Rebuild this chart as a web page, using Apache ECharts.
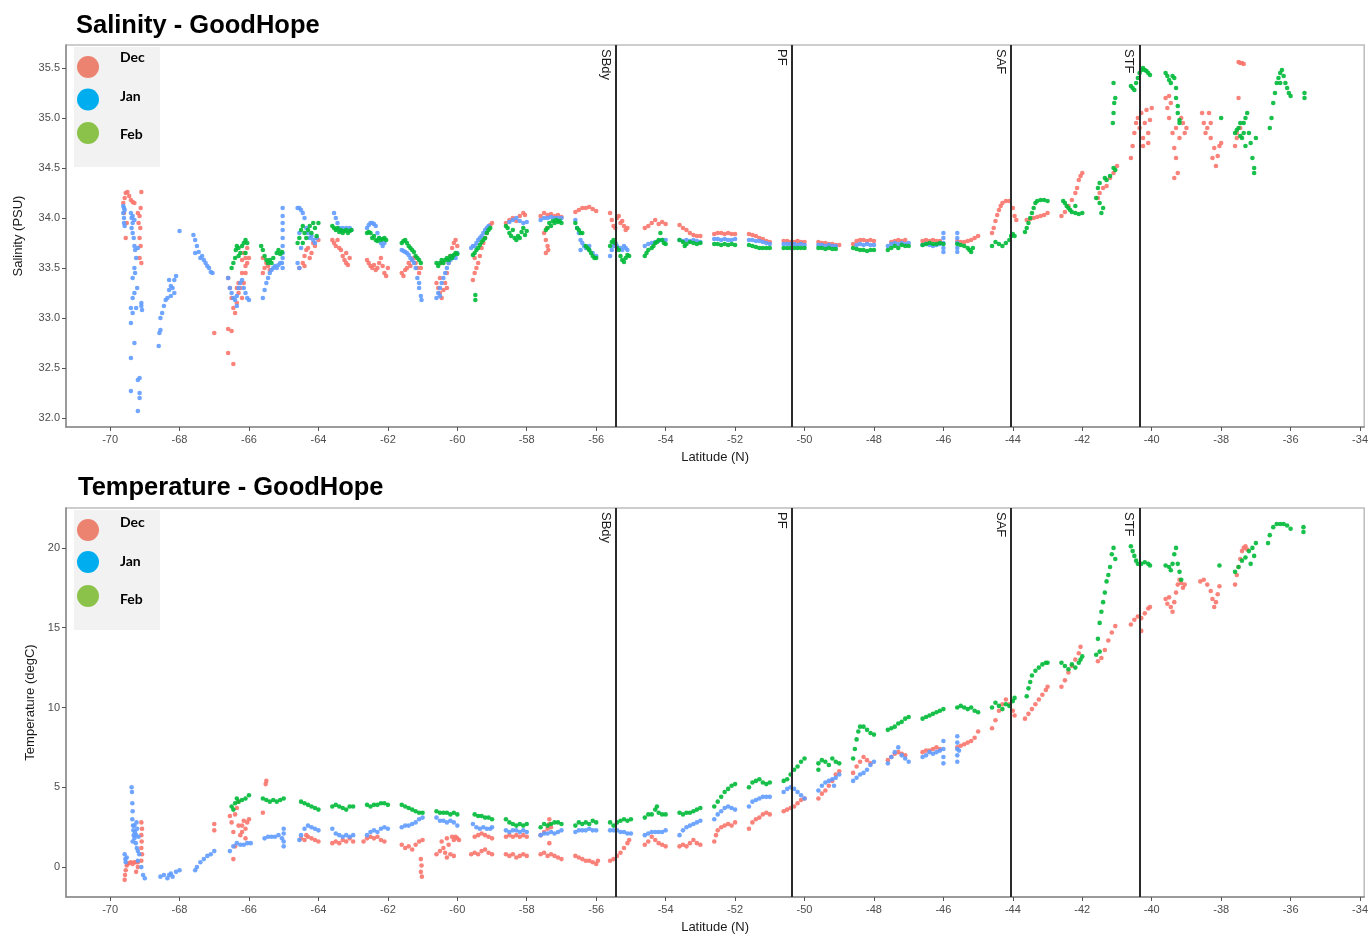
<!DOCTYPE html>
<html>
<head>
<meta charset="utf-8">
<script src="https://cdn.jsdelivr.net/npm/echarts@6/dist/echarts.min.js"></script>
<style>
html,body{margin:0;padding:0;background:#ffffff;}
#chart{width:1371px;height:935px;}
</style>
</head>
<body>
<div id="chart"></div>
<script>
// Underway surface salinity and temperature along the GoodHope line, by month.
const months = ['Dec', 'Jan', 'Feb'];
const pointColors = ['#F8766D', '#619CFF', '#00BA38'];
const keyColors = ['#EC8371', '#00AEEF', '#8BC34A'];

// Oceanic fronts (latitude, deg N)
const frontNames = ['SBdy', 'PF', 'SAF', 'STF'];
const frontLat = [-55.43, -50.36, -44.06, -40.35];

// Tick values
const latTicks = [-70, -68, -66, -64, -62, -60, -58, -56, -54, -52, -50, -48, -46, -44, -42, -40, -38, -36, -34];
const salTicks = [32.0, 32.5, 33.0, 33.5, 34.0, 34.5, 35.0, 35.5];
const tempTicks = [0, 5, 10, 15, 20];

// Salinity (PSU): flat lists of latitude, value
const salDec = [
-69.62,34.15, -69.58,34.20, -69.55,34.25, -69.50,34.26, -69.45,34.22, -69.40,34.18, -69.35,34.16, -69.30,34.15, -69.60,34.05, -69.55,33.80, -69.52,33.95,
-69.10,34.26, -69.12,34.10, -69.15,34.02, -69.18,33.95, -69.13,33.90, -69.15,33.80, -69.12,33.72, -69.15,33.60, -69.10,33.55, -69.20,34.05,
-67.00,32.85,
-66.60,32.89, -66.50,32.87, -66.60,32.65, -66.45,32.54,
-66.60,33.40, -66.55,33.30, -66.50,33.20, -66.45,33.10, -66.40,33.05, -66.35,33.15, -66.30,33.25, -66.25,33.30, -66.20,33.20, -66.15,33.35, -66.10,33.45, -66.05,33.55, -66.10,33.60, -66.15,33.65, -66.05,33.70, -66.00,33.60, -66.20,33.45, -66.35,33.30, -66.30,33.35, -66.20,33.58, -66.10,33.52,
-65.60,33.60, -65.55,33.50, -65.50,33.55, -65.45,33.52, -65.60,33.45, -65.40,33.48,
-64.55,33.50, -64.45,33.55, -64.40,33.62, -64.35,33.68, -64.30,33.70, -64.25,33.60, -64.20,33.65, -64.15,33.75, -64.10,33.72, -64.05,33.80, -64.00,33.78, -64.40,33.52,
-63.60,33.78, -63.55,33.75, -63.50,33.72, -63.45,33.78, -63.40,33.70, -63.35,33.68, -63.30,33.62, -63.25,33.58, -63.20,33.55, -63.15,33.53, -63.10,33.60, -63.20,33.65,
-62.60,33.58, -62.55,33.55, -62.50,33.52, -62.45,33.50, -62.40,33.53, -62.35,33.48, -62.30,33.50, -62.25,33.55, -62.20,33.60, -62.15,33.52, -62.10,33.45, -62.05,33.42, -62.00,33.50,
-61.60,33.45, -61.55,33.42, -61.50,33.48, -61.45,33.50, -61.40,33.55, -61.35,33.52, -61.30,33.58, -61.25,33.60, -61.20,33.55, -61.15,33.50, -61.10,33.45, -61.05,33.50,
-60.60,33.35, -60.55,33.30, -60.50,33.25, -60.45,33.20, -60.40,33.28, -60.35,33.35, -60.30,33.45, -60.25,33.55, -60.20,33.62, -60.15,33.70, -60.10,33.75, -60.05,33.78, -60.00,33.72, -60.50,33.40, -60.30,33.30, -60.45,33.55,
-59.55,33.38, -59.50,33.45, -59.45,33.50, -59.40,33.55, -59.35,33.62, -59.30,33.70, -59.25,33.75, -59.20,33.80, -59.15,33.85, -59.10,33.90, -59.05,33.93, -59.00,33.95, -59.50,33.60,
-58.60,33.95, -58.50,33.98, -58.40,34.00, -58.30,33.97, -58.20,34.02, -58.10,34.05, -58.05,34.03,
-57.60,34.02, -57.50,34.05, -57.40,34.03, -57.30,34.04, -57.20,34.02, -57.10,34.03, -57.00,34.01, -57.50,33.85, -57.45,33.78, -57.40,33.72, -57.38,33.68, -57.42,33.90, -57.45,33.65,
-56.60,34.06, -56.50,34.08, -56.40,34.10, -56.30,34.10, -56.20,34.11, -56.10,34.09, -56.00,34.07,
-55.60,34.05, -55.55,33.98, -55.50,33.92, -55.45,33.90, -55.40,34.00, -55.35,34.02, -55.30,33.95, -55.25,33.97, -55.20,33.92, -55.15,33.88, -55.10,33.90,
-54.60,33.90, -54.50,33.92, -54.40,33.95, -54.30,33.98, -54.20,33.94, -54.10,33.96, -54.00,33.94,
-53.60,33.93, -53.50,33.90, -53.40,33.88, -53.30,33.85, -53.20,33.83, -53.10,33.82, -53.00,33.82,
-52.60,33.84, -52.50,33.85, -52.40,33.85, -52.30,33.84, -52.20,33.85, -52.10,33.84, -52.00,33.84,
-51.60,33.84, -51.50,33.83, -51.40,33.82, -51.30,33.80, -51.20,33.79, -51.10,33.77, -51.00,33.76,
-50.60,33.77, -50.50,33.77, -50.40,33.76, -50.30,33.76, -50.20,33.77, -50.10,33.76, -50.00,33.76,
-49.60,33.76, -49.50,33.75, -49.40,33.75, -49.30,33.74, -49.20,33.74, -49.10,33.73, -49.00,33.73,
-48.60,33.74, -48.50,33.77, -48.40,33.78, -48.30,33.78, -48.20,33.77, -48.10,33.78, -48.00,33.77,
-47.50,33.76, -47.40,33.77, -47.30,33.78, -47.20,33.77, -47.10,33.78,
-46.60,33.77, -46.50,33.78, -46.40,33.77, -46.30,33.78, -46.20,33.77, -46.10,33.77,
-45.60,33.77, -45.50,33.76, -45.40,33.76, -45.30,33.77, -45.20,33.78, -45.10,33.80, -45.00,33.82,
-44.60,33.85, -44.55,33.90, -44.50,33.97, -44.45,34.03, -44.40,34.08, -44.35,34.12, -44.30,34.15, -44.20,34.17, -44.10,34.17, -44.00,34.10, -43.95,34.02, -43.90,33.98,
-43.60,33.98, -43.50,33.99, -43.40,34.00, -43.30,34.01, -43.20,34.02, -43.10,34.03, -43.00,34.05,
-42.60,34.02, -42.50,34.06, -42.40,34.12, -42.30,34.18, -42.20,34.25, -42.15,34.30, -42.10,34.38, -42.05,34.42, -42.00,34.45,
-41.55,34.20, -41.50,34.25, -41.40,34.30, -41.30,34.32, -41.20,34.40, -41.10,34.45, -41.00,34.52,
-40.60,34.60, -40.55,34.72, -40.50,34.85, -40.45,34.95, -40.40,35.00, -40.35,34.90, -40.30,35.05, -40.25,34.80, -40.20,34.95, -40.15,35.08, -40.10,34.85, -40.05,34.98, -40.00,35.10, -40.25,34.72, -40.10,34.75,
-39.60,35.20, -39.55,35.10, -39.50,35.00, -39.45,35.15, -39.40,34.85, -39.35,34.70, -39.30,34.60, -39.25,34.45, -39.30,34.90, -39.20,34.80, -39.15,35.00, -39.10,34.95, -39.05,34.85, -39.00,34.90, -39.35,34.40, -39.50,35.22,
-38.55,35.05, -38.50,34.95, -38.45,34.85, -38.40,34.90, -38.35,35.05, -38.30,34.80, -38.25,34.60, -38.20,34.70, -38.15,34.52, -38.10,34.62, -38.05,34.72, -38.00,34.75, -38.30,34.95,
-37.50,35.56, -37.45,35.55, -37.40,35.55, -37.35,35.54, -37.50,35.20, -37.55,34.85, -37.60,34.72, -37.55,34.80, -37.45,34.90
];

const salJan = [
-69.62,34.12, -69.62,34.05, -69.60,34.00, -69.60,33.95, -69.58,33.92, -69.60,34.10, -69.58,34.08,
-69.40,34.05, -69.38,34.00, -69.35,33.95, -69.38,33.90, -69.35,33.85, -69.32,33.80, -69.30,33.72, -69.28,33.68, -69.25,33.60, -69.30,33.50, -69.35,33.40, -69.30,33.25, -69.35,33.20, -69.40,33.10, -69.35,33.05, -69.40,32.95, -69.30,32.75, -69.40,32.60, -69.40,32.27, -69.20,32.07, -69.15,32.40, -69.20,32.38, -69.15,32.20, -69.15,32.25, -69.25,33.10, -69.10,33.15, -69.08,33.08, -69.10,33.12, -69.20,33.70, -69.28,33.45, -69.22,33.30, -69.35,34.02, -69.30,33.98,
-68.60,32.72, -68.58,32.85, -68.55,32.88, -68.55,33.00, -68.50,33.05, -68.45,33.12, -68.40,33.18, -68.35,33.20, -68.30,33.28, -68.25,33.32, -68.20,33.30, -68.15,33.38, -68.10,33.42, -68.30,33.38, -68.25,33.22, -68.15,33.25, -68.00,33.87,
-67.60,33.83, -67.55,33.78, -67.50,33.72, -67.55,33.65, -67.45,33.66, -67.40,33.60, -67.35,33.62, -67.30,33.58, -67.25,33.55, -67.20,33.52, -67.15,33.50, -67.10,33.46, -67.05,33.45,
-66.60,33.40, -66.55,33.30, -66.50,33.25, -66.45,33.20, -66.40,33.18, -66.35,33.22, -66.30,33.30, -66.25,33.35, -66.20,33.38, -66.15,33.30, -66.10,33.25, -66.05,33.20, -66.00,33.18, -66.35,33.12,
-65.60,33.20, -65.55,33.28, -65.50,33.35, -65.45,33.40, -65.40,33.45, -65.35,33.48, -65.30,33.50, -65.25,33.52, -65.20,33.50, -65.15,33.53, -65.10,33.55, -65.05,33.55, -65.03,33.60, -65.03,33.65, -65.03,33.72, -65.03,33.80, -65.03,33.88, -65.03,33.95, -65.03,34.02, -65.03,34.10, -65.03,33.50,
-64.60,34.10, -64.55,34.10, -64.50,34.08, -64.45,34.05, -64.40,34.00, -64.35,33.90, -64.30,33.85, -64.25,33.80, -64.20,33.82, -64.15,33.78, -64.10,33.75, -64.05,33.80, -64.60,33.55, -64.55,33.85, -64.50,33.70, -64.55,33.50,
-63.55,34.05, -63.50,34.00, -63.45,33.95, -63.40,33.90, -63.35,33.88, -63.30,33.90, -63.20,33.90, -63.10,33.90, -63.05,33.88,
-62.60,33.90, -62.55,33.93, -62.50,33.95, -62.45,33.95, -62.40,33.94, -62.35,33.92, -62.30,33.85, -62.25,33.80, -62.20,33.75, -62.15,33.72, -62.10,33.75,
-61.60,33.68, -61.55,33.67, -61.50,33.66, -61.45,33.65, -61.40,33.63, -61.35,33.60, -61.30,33.58, -61.25,33.55, -61.20,33.50, -61.15,33.40, -61.10,33.30, -61.05,33.22, -61.03,33.18, -61.10,33.35,
-60.60,33.20, -60.55,33.25, -60.50,33.30, -60.45,33.35, -60.40,33.40, -60.35,33.45, -60.30,33.50, -60.25,33.55, -60.20,33.58, -60.15,33.60, -60.10,33.62, -60.05,33.60, -60.00,33.65, -60.50,33.22,
-59.60,33.70, -59.55,33.72, -59.50,33.72, -59.45,33.75, -59.40,33.78, -59.35,33.80, -59.30,33.82, -59.25,33.85, -59.20,33.88, -59.15,33.90, -59.10,33.92,
-58.50,33.96, -58.40,33.98, -58.30,34.00, -58.20,33.97, -58.10,33.95, -58.00,33.96,
-57.60,33.98, -57.50,34.00, -57.40,34.00, -57.30,34.01, -57.20,34.00, -57.10,34.00, -57.00,34.00,
-56.60,33.98, -56.55,33.90, -56.50,33.85, -56.45,33.78, -56.40,33.75, -56.35,33.72, -56.30,33.70, -56.20,33.68, -56.10,33.65, -56.00,33.62, -56.45,33.68, -56.20,33.72,
-55.60,33.62, -55.55,33.68, -55.50,33.72, -55.45,33.75, -55.40,33.72, -55.30,33.70, -55.25,33.68, -55.20,33.72, -55.15,33.70, -55.10,33.68,
-54.60,33.72, -54.50,33.74, -54.40,33.75, -54.30,33.76, -54.20,33.77, -54.10,33.78, -54.00,33.78,
-53.60,33.78, -53.50,33.77, -53.40,33.78, -53.30,33.77, -53.20,33.78, -53.10,33.77, -53.00,33.76,
-52.60,33.79, -52.50,33.79, -52.40,33.78, -52.30,33.79, -52.20,33.78, -52.10,33.78, -52.00,33.79,
-51.60,33.78, -51.50,33.78, -51.40,33.77, -51.30,33.77, -51.20,33.76, -51.10,33.75, -51.00,33.74,
-50.60,33.74, -50.50,33.74, -50.40,33.74, -50.30,33.74, -50.20,33.73, -50.10,33.74, -50.00,33.73,
-49.60,33.73, -49.50,33.73, -49.40,33.72, -49.30,33.73, -49.20,33.72, -49.10,33.72,
-48.50,33.73, -48.40,33.74, -48.30,33.73, -48.20,33.74, -48.10,33.73, -48.00,33.73,
-47.60,33.72, -47.50,33.74, -47.40,33.75, -47.30,33.74, -47.20,33.75, -47.10,33.74, -47.00,33.75,
-46.60,33.73, -46.50,33.74, -46.40,33.73, -46.30,33.72, -46.20,33.73, -46.10,33.74, -46.00,33.85, -46.00,33.80, -46.00,33.75, -46.00,33.70, -46.00,33.66,
-45.60,33.85, -45.60,33.80, -45.60,33.75, -45.60,33.70, -45.60,33.66
];

const salFeb = [
-66.50,33.50, -66.45,33.55, -66.40,33.60, -66.38,33.68, -66.35,33.72, -66.30,33.70, -66.25,33.65, -66.20,33.72, -66.15,33.75, -66.10,33.78, -66.05,33.75, -66.30,33.62, -66.10,33.65,
-65.65,33.72, -65.60,33.68, -65.55,33.62, -65.50,33.58, -65.45,33.55, -65.40,33.58, -65.35,33.55, -65.30,33.60, -65.20,33.65, -65.15,33.68, -65.10,33.64, -65.05,33.66,
-64.60,33.75, -64.55,33.80, -64.50,33.88, -64.45,33.92, -64.40,33.85, -64.35,33.80, -64.30,33.88, -64.25,33.92, -64.20,33.85, -64.15,33.95, -64.10,33.90, -64.05,33.82, -64.00,33.95, -64.45,33.75,
-63.60,33.92, -63.55,33.90, -63.50,33.88, -63.45,33.90, -63.40,33.86, -63.35,33.88, -63.30,33.85, -63.25,33.87, -63.20,33.88, -63.15,33.85, -63.10,33.87, -63.05,33.88,
-62.60,33.85, -62.55,33.86, -62.50,33.85, -62.45,33.80, -62.40,33.82, -62.35,33.78, -62.30,33.77, -62.25,33.80, -62.20,33.78, -62.15,33.79, -62.10,33.80, -62.05,33.78,
-61.60,33.75, -61.55,33.77, -61.50,33.78, -61.45,33.75, -61.40,33.72, -61.35,33.70, -61.30,33.68, -61.25,33.66, -61.20,33.62, -61.15,33.60, -61.10,33.58, -61.05,33.55,
-60.60,33.55, -60.55,33.52, -60.50,33.55, -60.45,33.58, -60.40,33.55, -60.35,33.58, -60.30,33.60, -60.25,33.58, -60.20,33.62, -60.15,33.60, -60.10,33.63, -60.05,33.65, -60.00,33.64,
-59.55,33.63, -59.50,33.65, -59.45,33.68, -59.40,33.70, -59.35,33.73, -59.30,33.76, -59.25,33.78, -59.20,33.80, -59.15,33.85, -59.10,33.88, -59.05,33.90, -59.48,33.23, -59.48,33.18,
-58.60,33.92, -58.55,33.90, -58.50,33.85, -58.45,33.82, -58.40,33.88, -58.35,33.80, -58.30,33.78, -58.25,33.82, -58.20,33.80, -58.15,33.86, -58.10,33.90, -58.05,33.83, -58.00,33.87,
-57.45,33.88, -57.40,33.90, -57.35,33.95, -57.30,33.92, -57.25,33.97, -57.20,33.95, -57.15,33.98, -57.10,33.96, -57.05,33.97, -57.00,33.95,
-56.60,33.95, -56.55,33.90, -56.50,33.88, -56.45,33.85, -56.40,33.85, -56.30,33.72, -56.25,33.70, -56.20,33.68, -56.15,33.65, -56.10,33.62, -56.05,33.60, -56.00,33.60,
-55.60,33.72, -55.55,33.76, -55.50,33.78, -55.45,33.75, -55.40,33.70, -55.35,33.68, -55.30,33.62, -55.25,33.58, -55.20,33.56, -55.15,33.60, -55.10,33.63, -55.05,33.62,
-54.60,33.62, -54.55,33.65, -54.50,33.68, -54.40,33.70, -54.35,33.72, -54.30,33.75, -54.25,33.76, -54.20,33.78, -54.15,33.85, -54.10,33.78, -54.05,33.75, -54.00,33.74,
-53.60,33.78, -53.50,33.76, -53.45,33.72, -53.40,33.74, -53.30,33.76, -53.20,33.75, -53.10,33.74, -53.00,33.75,
-52.60,33.74, -52.50,33.74, -52.40,33.73, -52.30,33.74, -52.20,33.73, -52.10,33.74, -52.00,33.73,
-51.60,33.73, -51.50,33.72, -51.40,33.71, -51.30,33.70, -51.20,33.70, -51.10,33.70, -51.00,33.70,
-50.60,33.70, -50.50,33.70, -50.40,33.70, -50.30,33.70, -50.20,33.70, -50.10,33.70, -50.00,33.70,
-49.60,33.70, -49.50,33.70, -49.40,33.69, -49.30,33.70, -49.20,33.69, -49.10,33.69,
-48.60,33.70, -48.50,33.69, -48.40,33.68, -48.30,33.68, -48.20,33.67, -48.10,33.68, -48.00,33.68,
-47.60,33.68, -47.50,33.70, -47.40,33.72, -47.30,33.70, -47.20,33.73, -47.10,33.72, -47.00,33.72,
-46.60,33.73, -46.50,33.74, -46.40,33.75, -46.30,33.74, -46.20,33.74, -46.10,33.75, -46.00,33.74,
-45.60,33.74, -45.50,33.73, -45.40,33.72, -45.30,33.70, -45.25,33.68, -45.20,33.66, -45.15,33.70,
-44.60,33.72, -44.50,33.76, -44.40,33.74, -44.30,33.72, -44.20,33.75, -44.10,33.78, -44.05,33.82, -44.00,33.84, -43.95,33.82,
-43.65,33.86, -43.60,33.90, -43.55,33.95, -43.50,34.00, -43.45,34.05, -43.40,34.10, -43.35,34.15, -43.30,34.17, -43.20,34.18, -43.10,34.18, -43.00,34.17,
-42.55,34.17, -42.50,34.15, -42.45,34.12, -42.40,34.10, -42.35,34.08, -42.30,34.06, -42.20,34.05, -42.10,34.04, -42.00,34.05, -42.20,34.12,
-41.60,34.20, -41.55,34.30, -41.50,34.35, -41.45,34.05, -41.40,34.10, -41.35,34.40, -41.30,34.38, -41.20,34.42, -41.10,34.50, -41.05,34.48, -41.50,34.15,
-41.10,35.35, -41.05,35.20, -41.08,35.15, -41.10,35.05, -41.12,34.95,
-40.60,35.32, -40.55,35.30, -40.50,35.28, -40.45,35.35, -40.40,35.40, -40.35,35.45, -40.30,35.48, -40.25,35.50, -40.20,35.48, -40.15,35.47, -40.10,35.45, -40.05,35.43,
-39.60,35.45, -39.55,35.42, -39.50,35.38, -39.45,35.35, -39.40,35.42, -39.35,35.40, -39.30,35.30, -39.30,35.20, -39.25,35.05, -39.20,34.98, -39.25,35.12, -39.20,34.95,
-38.00,35.00,
-37.60,34.85, -37.55,34.88, -37.50,34.90, -37.45,34.82, -37.40,34.80, -37.35,34.95, -37.30,35.00, -37.25,35.05, -37.20,34.85, -37.15,34.75, -37.10,34.60, -37.05,34.50, -37.05,34.45, -37.00,34.80, -37.30,34.72, -37.45,34.95, -37.35,34.85,
-36.60,34.90, -36.55,35.00, -36.50,35.15, -36.45,35.25, -36.40,35.35, -36.35,35.40, -36.30,35.45, -36.25,35.48, -36.20,35.42, -36.15,35.35, -36.10,35.30, -36.05,35.25, -36.00,35.22, -36.30,35.35,
-35.60,35.25, -35.60,35.20
];

// Temperature (degC): flat lists of latitude, value
const tempDec = [
-69.58,-0.80, -69.57,-0.50, -69.55,-0.20, -69.52,0.10, -69.50,0.20, -69.45,0.25, -69.40,0.30, -69.35,0.20, -69.30,0.30, -69.25,0.30, -69.20,0.30,
-69.10,2.80, -69.08,2.40, -69.10,2.00, -69.09,1.60, -69.10,1.20, -69.08,0.80, -69.10,0.40, -69.20,0.00, -69.25,-0.30,
-67.00,2.70, -67.00,2.30,
-66.55,3.20, -66.50,2.80, -66.45,2.20, -66.40,3.30, -66.35,3.70, -66.30,4.10, -66.30,2.60, -66.25,2.00, -66.20,2.60, -66.15,2.90, -66.10,2.40, -66.05,2.80, -66.00,3.00, -66.45,0.50, -66.40,1.30, -66.20,2.20, -66.10,1.80,
-65.50,5.40, -65.52,5.20, -65.60,3.40,
-64.50,1.80, -64.40,1.70, -64.30,1.90, -64.20,1.80, -64.10,1.70, -64.00,1.60, -64.35,2.00,
-63.60,1.50, -63.50,1.60, -63.40,1.50, -63.30,1.70, -63.20,1.60, -63.10,1.80, -63.00,1.60,
-62.70,1.60, -62.60,1.80, -62.50,1.90, -62.40,1.80, -62.30,1.90, -62.20,1.70, -62.10,1.60,
-61.60,1.40, -61.50,1.20, -61.40,1.30, -61.30,1.10, -61.20,1.40, -61.10,1.60, -61.00,1.70, -61.05,0.50, -61.03,0.10, -61.05,-0.30, -61.02,-0.60,
-60.60,0.80, -60.50,1.00, -60.45,1.60, -60.40,1.20, -60.35,0.90, -60.30,1.80, -60.25,1.40, -60.20,0.80, -60.15,1.90, -60.10,1.70, -60.05,1.90, -60.00,1.80, -59.95,1.70, -60.30,0.60, -60.10,0.70,
-59.50,1.90, -59.40,2.00, -59.30,2.10, -59.20,2.00, -59.10,1.90, -59.00,1.80,
-59.60,0.80, -59.50,0.90, -59.40,0.80, -59.30,1.00, -59.20,1.10, -59.10,0.90, -59.00,0.80,
-58.60,1.90, -58.50,2.00, -58.40,1.90, -58.30,2.00, -58.20,1.90, -58.10,2.00, -58.00,1.90,
-58.60,0.80, -58.50,0.70, -58.40,0.80, -58.30,0.60, -58.20,0.70, -58.10,0.80, -58.00,0.70,
-57.60,2.00, -57.50,2.20, -57.40,2.40, -57.35,3.00, -57.35,2.70, -57.35,1.50, -57.30,2.50,
-57.60,0.80, -57.50,0.90, -57.40,0.70, -57.30,0.80, -57.20,0.70, -57.10,0.60, -57.00,0.50,
-56.60,0.70, -56.50,0.60, -56.40,0.50, -56.30,0.40, -56.20,0.40, -56.10,0.30, -56.00,0.20, -55.95,0.40,
-55.60,0.40, -55.50,0.50, -55.40,0.70, -55.30,0.90, -55.20,1.20, -55.10,1.50, -55.05,1.70,
-54.60,1.40, -54.50,1.60, -54.40,1.90, -54.30,1.70, -54.20,1.50, -54.10,1.40, -54.00,1.30,
-53.60,1.30, -53.50,1.40, -53.40,1.30, -53.30,1.50, -53.20,1.70, -53.10,1.50, -53.00,1.40,
-52.60,1.60, -52.55,2.00, -52.50,2.30, -52.40,2.50, -52.30,2.60, -52.20,2.70, -52.10,2.60, -52.00,2.80,
-51.60,2.40, -51.50,2.80, -51.40,3.00, -51.30,3.10, -51.20,3.30, -51.10,3.40, -51.00,3.30,
-50.60,3.50, -50.50,3.60, -50.40,3.70, -50.30,3.80, -50.20,4.00, -50.10,4.20, -50.00,4.30,
-49.60,4.30, -49.50,4.60, -49.40,4.80, -49.30,5.10, -49.20,5.40, -49.10,5.80, -49.00,6.00,
-48.60,5.90, -48.50,6.30, -48.40,6.60, -48.30,6.90, -48.20,6.70, -48.10,6.50,
-47.60,6.70, -47.50,6.90, -47.40,7.10, -47.30,7.20, -47.20,7.10, -47.10,7.00,
-46.60,7.20, -46.50,7.30, -46.40,7.30, -46.30,7.40, -46.20,7.50, -46.10,7.40,
-45.60,7.50, -45.50,7.60, -45.40,7.70, -45.30,7.80, -45.20,7.90, -45.10,8.10, -45.00,8.50,
-44.60,8.70, -44.50,9.20, -44.40,9.80, -44.30,10.20, -44.20,10.50, -44.10,10.20, -44.00,9.80, -43.95,9.50,
-43.65,9.30, -43.55,9.60, -43.45,9.90, -43.35,10.20, -43.25,10.50, -43.15,10.80, -43.05,11.10, -43.00,11.30,
-42.60,11.30, -42.50,11.70, -42.40,12.20, -42.30,12.60, -42.20,13.00, -42.10,13.40, -42.05,13.80,
-41.55,12.90, -41.45,13.10, -41.35,13.60, -41.25,14.20, -41.15,14.70, -41.05,15.10,
-40.60,15.20, -40.50,15.50, -40.40,15.70, -40.30,15.60, -40.20,15.90, -40.10,16.20, -40.05,16.30, -40.30,14.80,
-39.60,16.80, -39.55,16.50, -39.50,16.90, -39.45,16.30, -39.40,16.00, -39.35,16.60, -39.30,17.20, -39.25,17.70, -39.20,18.00, -39.15,17.80, -39.10,17.50, -39.05,17.70,
-38.60,17.90, -38.50,18.00, -38.40,17.70, -38.30,17.30, -38.25,16.80, -38.20,16.30, -38.15,16.60, -38.10,17.10, -38.05,17.60,
-37.60,17.70, -37.55,18.30, -37.50,18.80, -37.45,19.30, -37.40,19.80, -37.35,20.00, -37.30,20.10, -37.25,19.90
];

const tempJan = [
-69.58,0.80, -69.56,0.50, -69.55,0.30, -69.52,0.60,
-69.38,5.00, -69.37,4.70, -69.36,4.00, -69.35,3.50, -69.36,3.00, -69.34,2.60, -69.33,2.30, -69.32,2.00, -69.30,1.80, -69.28,2.20, -69.26,1.50, -69.25,2.00, -69.23,1.20, -69.22,2.40, -69.20,1.00, -69.18,1.90, -69.16,0.80, -69.20,0.40, -69.10,0.00, -69.05,-0.50, -69.00,-0.70, -69.35,1.60, -69.30,2.60, -69.24,2.80,
-68.55,-0.60, -68.45,-0.50, -68.35,-0.70, -68.25,-0.40, -68.20,-0.60, -68.10,-0.30, -68.00,-0.20, -68.30,-0.50,
-67.55,-0.20, -67.50,0.00, -67.40,0.30, -67.30,0.50, -67.20,0.70, -67.10,0.80, -67.00,1.00,
-66.55,1.00, -66.45,1.30, -66.35,1.50, -66.25,1.40, -66.15,1.40, -66.05,1.50, -65.95,1.50,
-65.55,1.80, -65.45,1.90, -65.35,1.90, -65.25,1.90, -65.15,2.00, -65.05,1.80, -65.00,2.40, -65.00,2.10, -65.00,1.60, -65.00,1.30,
-64.55,1.70, -64.50,2.00, -64.40,2.40, -64.30,2.60, -64.20,2.50, -64.10,2.40, -64.00,2.30,
-63.60,2.40, -63.50,2.10, -63.40,2.00, -63.30,1.90, -63.20,2.00, -63.10,1.90, -63.00,2.00,
-62.60,2.00, -62.50,2.20, -62.40,2.30, -62.30,2.20, -62.20,2.40, -62.10,2.50, -62.00,2.40,
-61.60,2.50, -61.50,2.60, -61.40,2.60, -61.30,2.70, -61.20,2.80, -61.10,3.00, -61.00,3.10,
-60.60,3.10, -60.50,2.90, -60.40,2.90, -60.30,2.80, -60.20,2.90, -60.10,2.80, -60.00,2.60,
-59.55,2.70, -59.45,2.50, -59.35,2.40, -59.25,2.50, -59.15,2.40, -59.05,2.40, -59.00,2.50,
-58.60,2.30, -58.50,2.20, -58.40,2.30, -58.30,2.30, -58.20,2.20, -58.10,2.30, -58.00,2.20,
-57.60,2.00, -57.50,2.10, -57.40,2.10, -57.30,2.20, -57.20,2.10, -57.10,2.20, -57.00,2.30,
-56.60,2.20, -56.50,2.30, -56.40,2.30, -56.30,2.30, -56.20,2.40, -56.10,2.30, -56.00,2.30,
-55.60,2.30, -55.50,2.30, -55.40,2.30, -55.30,2.20, -55.20,2.20, -55.10,2.10, -55.00,2.10,
-54.60,2.00, -54.50,2.10, -54.40,2.20, -54.30,2.20, -54.20,2.20, -54.10,2.20, -54.00,2.30,
-53.60,2.00, -53.50,2.30, -53.40,2.50, -53.30,2.60, -53.20,2.70, -53.10,2.80, -53.00,2.90,
-52.60,3.00, -52.50,3.30, -52.40,3.50, -52.30,3.70, -52.20,3.80, -52.10,3.70, -52.00,3.60,
-51.60,3.80, -51.50,4.10, -51.40,4.20, -51.30,4.30, -51.20,4.40, -51.10,4.40, -51.00,4.40,
-50.60,4.70, -50.50,4.90, -50.40,5.00, -50.30,4.90, -50.20,4.70, -50.10,4.50, -50.00,4.30,
-49.60,4.80, -49.50,5.10, -49.40,5.30, -49.30,5.40, -49.20,5.50, -49.10,5.60, -49.00,5.80, -49.15,5.10,
-48.60,5.40, -48.50,5.60, -48.40,5.80, -48.30,5.90, -48.20,6.10, -48.10,6.40, -48.00,6.60,
-47.60,6.50, -47.50,6.90, -47.40,7.20, -47.30,7.50, -47.20,7.00, -47.10,6.80, -47.00,6.60,
-46.60,6.90, -46.50,7.00, -46.40,7.20, -46.30,7.10, -46.20,7.20, -46.10,7.30, -46.00,7.90, -46.00,7.40, -46.00,6.90, -46.00,6.50,
-45.60,8.20, -45.60,7.80, -45.60,7.40, -45.60,7.00, -45.60,6.60, -45.55,7.30
];

const tempFeb = [
-66.50,3.80, -66.40,4.00, -66.35,4.30, -66.30,4.10, -66.20,4.20, -66.10,4.30, -66.00,4.50, -66.45,3.60,
-65.60,4.30, -65.50,4.20, -65.40,4.10, -65.30,4.20, -65.20,4.10, -65.10,4.20, -65.00,4.30,
-64.50,4.10, -64.40,4.00, -64.30,3.90, -64.20,3.80, -64.10,3.70, -64.00,3.60,
-63.60,3.80, -63.50,3.90, -63.40,3.80, -63.30,3.70, -63.20,3.60, -63.10,3.80, -63.00,3.80,
-62.60,3.90, -62.50,3.80, -62.40,3.90, -62.30,3.90, -62.20,4.00, -62.10,4.00, -62.00,3.90,
-61.60,3.90, -61.50,3.80, -61.40,3.70, -61.30,3.60, -61.20,3.50, -61.10,3.40, -61.00,3.40,
-60.60,3.50, -60.50,3.40, -60.40,3.40, -60.30,3.40, -60.20,3.30, -60.10,3.40, -60.00,3.30,
-59.50,3.30, -59.40,3.20, -59.30,3.20, -59.20,3.10, -59.10,3.10, -59.00,3.00,
-58.60,3.00, -58.50,2.80, -58.40,2.70, -58.30,2.60, -58.20,2.70, -58.10,2.60, -58.00,2.70,
-57.60,2.50, -57.50,2.70, -57.40,2.60, -57.30,2.70, -57.20,2.80, -57.10,2.80, -57.00,2.70,
-56.60,2.60, -56.50,2.80, -56.40,2.70, -56.30,2.80, -56.20,2.70, -56.10,2.90, -56.00,2.80,
-55.60,2.80, -55.50,2.60, -55.40,2.80, -55.30,2.90, -55.20,3.00, -55.10,2.90, -55.00,3.00,
-54.60,3.10, -54.50,3.30, -54.40,3.30, -54.30,3.60, -54.25,3.80, -54.20,3.40, -54.10,3.30, -54.00,3.30,
-53.60,3.40, -53.50,3.30, -53.40,3.40, -53.30,3.40, -53.20,3.50, -53.10,3.60, -53.00,3.70,
-52.60,3.80, -52.50,4.10, -52.40,4.40, -52.30,4.70, -52.20,4.90, -52.10,5.10, -52.00,5.20,
-51.60,5.00, -51.50,5.30, -51.40,5.40, -51.30,5.50, -51.20,5.30, -51.10,5.20, -51.00,5.30,
-50.60,5.40, -50.50,5.50, -50.40,5.80, -50.30,6.10, -50.20,6.30, -50.10,6.60, -50.00,6.80,
-49.60,6.50, -49.50,6.70, -49.40,6.60, -49.30,6.40, -49.20,6.80, -49.10,6.60, -49.00,6.50, -49.60,6.10,
-48.60,6.80, -48.55,7.40, -48.50,8.00, -48.45,8.50, -48.40,8.80, -48.30,8.80, -48.20,8.60, -48.10,8.40, -48.00,8.30,
-47.60,8.60, -47.50,8.70, -47.40,8.80, -47.30,9.00, -47.20,9.10, -47.10,9.30, -47.00,9.40,
-46.60,9.30, -46.50,9.40, -46.40,9.50, -46.30,9.60, -46.20,9.70, -46.10,9.80, -46.00,9.90,
-45.60,10.00, -45.50,10.10, -45.40,10.00, -45.30,9.90, -45.20,10.00, -45.10,9.80, -45.00,9.70,
-44.60,10.00, -44.50,10.30, -44.40,10.10, -44.30,9.90, -44.20,10.20, -44.10,10.10, -44.00,10.40, -43.95,10.60,
-43.60,10.70, -43.55,11.20, -43.50,11.60, -43.45,12.00, -43.35,12.30, -43.25,12.50, -43.15,12.70, -43.05,12.80, -43.00,12.80,
-42.60,12.80, -42.50,12.60, -42.40,12.40, -42.30,12.70, -42.20,12.50, -42.10,12.80, -42.05,13.00, -42.00,13.20,
-41.60,13.30, -41.55,14.30, -41.50,15.30, -41.45,16.00, -41.40,16.60, -41.35,17.20, -41.30,17.90, -41.25,18.30, -41.20,18.80, -41.15,19.60, -41.10,20.00, -41.05,19.30, -41.50,13.50,
-40.60,20.10, -40.55,19.80, -40.50,19.50, -40.45,19.20, -40.40,19.00, -40.30,19.00, -40.20,19.10, -40.10,19.00, -40.05,18.90,
-39.60,18.90, -39.50,18.80, -39.45,18.60, -39.40,19.00, -39.35,19.60, -39.30,20.00, -39.25,19.00, -39.20,18.50, -39.15,18.00,
-38.05,18.90,
-37.60,18.50, -37.50,18.80, -37.40,19.20, -37.30,19.40, -37.20,19.80, -37.10,20.00, -37.00,20.30, -37.05,19.50, -37.15,19.00,
-36.65,20.30, -36.60,20.80, -36.50,21.30, -36.40,21.50, -36.30,21.50, -36.20,21.50, -36.10,21.40, -36.00,21.20,
-35.63,21.30, -35.63,21.00
];

function pairs(flat) {
  const out = [];
  for (let i = 0; i < flat.length; i += 2) out.push([flat[i], flat[i + 1]]);
  return out;
}

const salSeries = [salDec, salJan, salFeb];
const tempSeries = [tempDec, tempJan, tempFeb];

const salRange = [31.91, 35.73];
const tempRange = [-1.875, 22.5];
const latRange = [-71.27, -33.88];

const FONT = 'Liberation Sans, Arial, sans-serif';

function xAxisCfg(gridIndex) {
  return {
    type: 'value', gridIndex: gridIndex, min: latRange[0], max: latRange[1],
    name: 'Latitude (N)', nameLocation: 'middle', nameGap: 24,
    nameTextStyle: { color: '#1a1a1a', fontSize: 13, fontFamily: FONT },
    axisLine: { show: true, onZero: false, lineStyle: { color: '#8a8a8a', width: 1.5 } },
    axisTick: { show: true, length: 4, customValues: latTicks, lineStyle: { color: '#555', width: 1 } },
    axisLabel: { customValues: latTicks, color: '#4d4d4d', fontSize: 11, fontFamily: FONT, margin: 7,
      formatter: v => String(Math.round(v)) },
    splitLine: { show: false }
  };
}

function yAxisCfg(gridIndex, name, range, ticks, gap, fmt) {
  return {
    type: 'value', gridIndex: gridIndex, min: range[0], max: range[1],
    name: name, nameLocation: 'middle', nameGap: gap,
    nameTextStyle: { color: '#1a1a1a', fontSize: 13, fontFamily: FONT },
    axisLine: { show: true, onZero: false, lineStyle: { color: '#8a8a8a', width: 1.5 } },
    axisTick: { show: true, length: 4, customValues: ticks, lineStyle: { color: '#555', width: 1 } },
    axisLabel: { customValues: ticks, color: '#4d4d4d', fontSize: 11, fontFamily: FONT, margin: 6, formatter: fmt },
    splitLine: { show: false }
  };
}

function frontLines(range) {
  return {
    silent: true,
    symbol: ['none', 'none'],
    animation: false,
    lineStyle: { color: '#2b2b2b', width: 2, type: 'solid' },
    label: {
      show: true, position: 'insideStartBottom', distance: 4,
      formatter: p => p.name, color: '#1a1a1a', fontSize: 13, fontFamily: FONT
    },
    emphasis: { disabled: true },
    data: frontNames.map((n, i) => [
      { name: n, coord: [frontLat[i], range[1]] },
      { coord: [frontLat[i], range[0]] }
    ])
  };
}

const series = [];
salSeries.forEach((d, i) => {
  const s = {
    name: months[i] + ' salinity', type: 'scatter', xAxisIndex: 0, yAxisIndex: 0,
    data: pairs(d), symbolSize: 4.6, itemStyle: { color: pointColors[i], opacity: 0.9 }, z: 3
  };
  if (i === 0) s.markLine = frontLines(salRange);
  series.push(s);
});
tempSeries.forEach((d, i) => {
  const s = {
    name: months[i] + ' temperature', type: 'scatter', xAxisIndex: 1, yAxisIndex: 1,
    data: pairs(d), symbolSize: 4.6, itemStyle: { color: pointColors[i], opacity: 0.9 }, z: 3
  };
  if (i === 0) s.markLine = frontLines(tempRange);
  series.push(s);
});

// Month key drawn as a shaded box with filled circles
function monthKey(top, circleY, textY) {
  const children = [{
    type: 'rect', shape: { x: 74, y: top, width: 86, height: 120 },
    style: { fill: '#f2f2f2' }
  }];
  months.forEach((m, i) => {
    children.push({ type: 'circle', shape: { cx: 88, cy: circleY[i], r: 11 }, style: { fill: keyColors[i] } });
    children.push({ type: 'text', style: { x: 120, y: textY[i], text: m, fill: '#000',
      font: 'bold 14px Lato, "Open Sans", sans-serif', verticalAlign: 'middle' } });
  });
  return { type: 'group', children: children };
}

const option = {
  animation: false,
  backgroundColor: '#ffffff',
  grid: [
    { left: 66, top: 45, width: 1300, height: 382, show: true, borderColor: '#bdbdbd', borderWidth: 1.5, backgroundColor: '#fff' },
    { left: 66, top: 508, width: 1300, height: 390, show: true, borderColor: '#bdbdbd', borderWidth: 1.5, backgroundColor: '#fff' }
  ],
  xAxis: [xAxisCfg(0), xAxisCfg(1)],
  yAxis: [
    yAxisCfg(0, 'Salinity (PSU)', salRange, salTicks, 41, v => v.toFixed(1)),
    yAxisCfg(1, 'Temperature (degC)', tempRange, tempTicks, 29, v => String(Math.round(v)))
  ],
  graphic: [
    { type: 'text', left: 76, top: 13, style: { text: 'Salinity - GoodHope', fill: '#000', font: 'bold 25.5px "Liberation Sans", Arial, sans-serif' } },
    { type: 'text', left: 78, top: 475, style: { text: 'Temperature - GoodHope', fill: '#000', font: 'bold 25.5px "Liberation Sans", Arial, sans-serif' } },
    monthKey(47, [67, 99.5, 133], [57.5, 96, 134]),
    monthKey(510, [530, 562, 596], [522, 561, 599])
  ],
  series: series
};

const chart = echarts.init(document.getElementById('chart'), null, { renderer: 'canvas' });
chart.setOption(option);
</script>
</body>
</html>
